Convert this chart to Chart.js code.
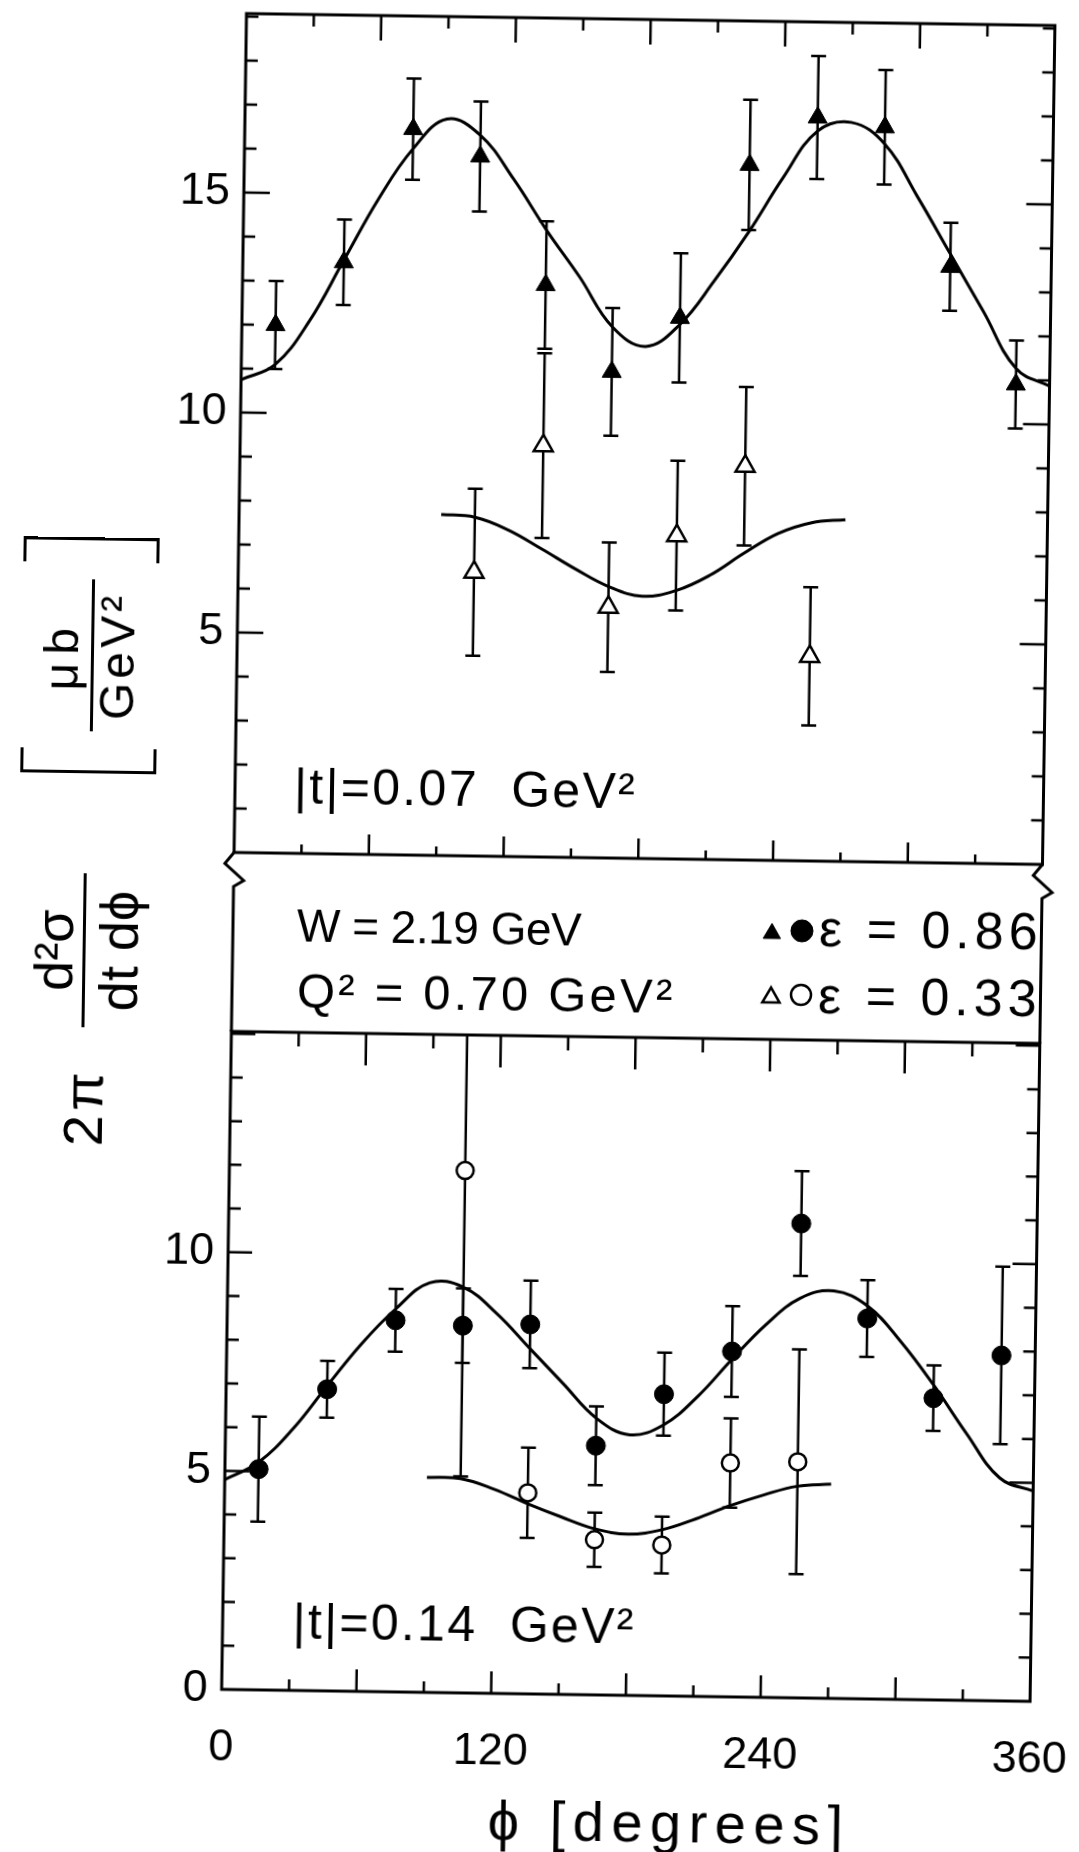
<!DOCTYPE html>
<html>
<head>
<meta charset="utf-8">
<script src="https://cdn.jsdelivr.net/npm/chart.js@4.4.1/dist/chart.umd.min.js"></script>
<style>
  html, body { margin: 0; padding: 0; background: #fff; overflow: hidden; }
  #page {
    position: relative; width: 1079px; height: 1852px;
    transform: rotate(0.85deg); transform-origin: 539.5px 926px;
  }
  canvas { position: absolute; left: 0; }
  #chart-top { top: 0; }
  #chart-bottom { top: 1000px; }

  .note {
    position: absolute; color: #000; line-height: 1; white-space: pre;
    font-family: 'Liberation Sans', Arial, sans-serif;
  }
  #t-top    { left: 292px; top: 765px;  font-size: 50px; letter-spacing: 2.3px; }
  #t-bottom { left: 303px; top: 1600px; font-size: 50px; letter-spacing: 2.3px; }
  #w-line   { left: 297px; top: 906px;  font-size: 46px; letter-spacing: -0.5px; }
  #q-line   { left: 298px; top: 970px;  font-size: 49px; letter-spacing: 3.2px; }
  #eps-hi   { left: 819px; top: 898px;  font-size: 52px; letter-spacing: 5px; }
  #eps-lo   { left: 819px; top: 965px;  font-size: 52px; letter-spacing: 5px; }
  #x-title  { left: 501px; top: 1793px; font-size: 56px; letter-spacing: 7.5px; }

  /* vertical axis title, written along the page upwards */
  #ytitle {
    position: absolute; left: -216px; top: 781px; width: 604px; height: 140px;
    transform: rotate(-90deg); display: flex; align-items: center;
    font-family: 'Liberation Sans', Arial, sans-serif; color: #000; line-height: 1;
  }
  #ytitle .pi { font-size: 56px; letter-spacing: 4px; margin-right: 41px; white-space: pre; }
  #ytitle .frac { display: inline-flex; flex-direction: column; align-items: center; flex: none; }
  #ytitle .frac span { display: block; text-align: center; white-space: pre; }
  #ytitle .big { width: 154px; font-size: 54px; margin-right: 100px; }
  #ytitle .big .den { width: 100%; margin-top: 2px; padding-top: 6px; border-top: 3px solid #000; }
  #ytitle .small { width: 152px; font-size: 48px; margin: 0 17px; }
  #ytitle .small .num { letter-spacing: 8px; }
  #ytitle .small .den { width: 100%; margin-top: 5px; border-top: 3px solid #000; letter-spacing: 4px; }
  #ytitle .brk { flex: none; width: 25px; height: 136px; box-sizing: border-box; border: 3px solid #000; }
  #ytitle .brk.l { border-right: none; }
  #ytitle .brk.r { border-left: none; }
</style>
</head>
<body>
<div id="page">
  <canvas id="chart-top" width="1079" height="1040"></canvas>
  <canvas id="chart-bottom" width="1079" height="852"></canvas>

  <div class="note" id="t-top">|t|=0.07  GeV²</div>
  <div class="note" id="t-bottom">|t|=0.14  GeV²</div>
  <div class="note" id="w-line">W = 2.19 GeV</div>
  <div class="note" id="q-line">Q² = 0.70 GeV²</div>
  <div class="note" id="eps-hi">ε = 0.86</div>
  <div class="note" id="eps-lo">ε = 0.33</div>
  <div class="note" id="x-title">ϕ [degrees]</div>

  <div id="ytitle">
    <span class="pi">2π</span>
    <span class="frac big"><span class="num">d²σ</span><span class="den">dt dϕ</span></span>
    <span class="brk l"></span>
    <span class="frac small"><span class="num">μb</span><span class="den">GeV²</span></span>
    <span class="brk r"></span>
  </div>
</div>

<script>
// ==========================================
// data: azimuthal distributions, W = 2.19 GeV, Q2 = 0.70 GeV2
// ==========================================

const phiAll = [15, 45, 75, 105, 135, 165, 195, 225, 255, 285, 315, 345];
const phiLow = [105, 135, 165, 195, 225, 255];

// |t| = 0.07 GeV2
const top086    = [12.0, 13.45, 16.5, 15.9, 13.0, 11.05, 12.3, 15.8, 16.9, 16.7, 13.55, 10.9];
const top086Err = [1.0, 0.97, 1.15, 1.25, 1.45, 1.45, 1.47, 1.48, 1.4, 1.3, 1.0, 1.0];
const top033    = [6.45, 9.35, 5.7, 7.35, 8.95, 4.65];
const top033Err = [1.9, 2.1, 1.47, 1.7, 1.8, 1.57];

// |t| = 0.14 GeV2
const bot086    = [5.05, 6.9, 8.5, 8.4, 8.45, 5.7, 6.9, 7.9, 10.85, 8.7, 6.9, 7.9];
const bot086Err = [1.2, 0.65, 0.72, 0.85, 1.0, 0.9, 0.95, 1.04, 1.2, 0.88, 0.75, 2.03];
const bot033    = [11.95, 4.6, 3.55, 3.45, 5.35, 5.4];
const bot033Err = [7.0, 1.03, 0.62, 0.65, 1.02, 2.57];

// fitted curves
const fitPhiFull = [0, 15, 30, 45, 60, 75, 90, 105, 120, 135, 150, 165, 180,
                    195, 210, 225, 240, 255, 270, 285, 300, 315, 330, 345, 360];
const fitPhiHalf = [90, 105, 120, 135, 150, 165, 180, 195, 210, 225, 240, 255, 270];
const topFit086 = [10.75, 11.1, 12.1, 13.5, 14.9, 16.05, 16.74, 16.38, 15.4, 14.25, 13.2, 12.07, 11.64,
                   12.15, 13.15, 14.27, 15.52, 16.59, 16.8, 16.32, 15.13, 13.84, 12.55, 11.26, 10.87];
const topFit033 = [7.75, 7.7, 7.42, 7.0, 6.56, 6.17, 5.96, 6.1, 6.46, 6.97, 7.43, 7.69, 7.77];
const botFit086 = [4.8, 5.21, 5.98, 6.98, 7.95, 8.76, 9.37, 9.28, 8.69, 7.9, 7.11, 6.33, 5.96,
                   6.2, 6.86, 7.72, 8.53, 9.14, 9.32, 8.99, 8.19, 7.2, 6.1, 5.1, 4.81];
const botFit033 = [4.92, 4.9, 4.67, 4.35, 4.06, 3.8, 3.69, 3.8, 4.06, 4.37, 4.63, 4.84, 4.9];

// tick labels
const yTicksTop = [5, 10, 15];
const yTicksBottom = [0, 5, 10];
const xTicks = [0, 120, 240, 360];

// ==========================================
// layout
// ==========================================

const TICK_FONT = "'Liberation Sans Narrow', 'Liberation Sans', Arial, sans-serif";
const PAGE_W = 1079;
const AXIS_LEFT = 233;
const AXIS_RIGHT = 1041.5;
const BOX_BOTTOM = 1036;   // page y where the lower panel starts

function series(xs, ys) {
  return xs.map((x, i) => ({ x: x, y: ys[i] }));
}

function markerSet(label, xs, ys, errs, style, filled, radius) {
  return {
    label: label,
    data: series(xs, ys),
    errors: errs,
    showLine: false,
    pointStyle: style,
    pointRadius: radius,
    pointHoverRadius: radius,
    pointBackgroundColor: filled ? '#000' : '#fff',
    pointBorderColor: '#000',
    pointBorderWidth: filled ? 1 : 2.5
  };
}

function fitLine(label, xs, ys) {
  return {
    label: label,
    data: series(xs, ys),
    showLine: true,
    pointRadius: 0,
    borderColor: '#000',
    borderWidth: 3,
    tension: 0.4,
    fill: false
  };
}

// ==========================================
// plugins
// ==========================================

// vertical error bars with short caps, under the markers
const errorBars = {
  id: 'errorBars',
  beforeDatasetsDraw(chart) {
    const { ctx, chartArea: a, scales: { x, y } } = chart;
    ctx.save();
    ctx.beginPath();
    ctx.rect(a.left, a.top, a.right - a.left, a.bottom - a.top);
    ctx.clip();
    ctx.strokeStyle = '#000';
    ctx.lineWidth = 2.5;
    chart.data.datasets.forEach(ds => {
      if (!ds.errors) return;
      ds.data.forEach((p, i) => {
        const px = x.getPixelForValue(p.x);
        const hi = y.getPixelForValue(p.y + ds.errors[i]);
        const lo = y.getPixelForValue(p.y - ds.errors[i]);
        ctx.beginPath();
        ctx.moveTo(px, hi); ctx.lineTo(px, lo);
        ctx.moveTo(px - 7.5, hi); ctx.lineTo(px + 7.5, hi);
        ctx.moveTo(px - 7.5, lo); ctx.lineTo(px + 7.5, lo);
        ctx.stroke();
      });
    });
    ctx.restore();
  }
};

// closed frame with inward ticks on all four sides
const frameTicks = {
  id: 'frameTicks',
  afterDraw(chart, args, o) {
    const { ctx, chartArea: a, scales: { x, y } } = chart;
    ctx.save();
    ctx.strokeStyle = '#000';
    ctx.lineWidth = 3;
    ctx.strokeRect(a.left, a.top, a.right - a.left, a.bottom - a.top);
    ctx.lineWidth = 2.5;
    ctx.beginPath();
    for (let v = 1; v < y.max; v++) {
      const py = y.getPixelForValue(v);
      const len = v % 5 === 0 ? o.yMajor : o.yMinor;
      ctx.moveTo(a.left, py); ctx.lineTo(a.left + len, py);
      ctx.moveTo(a.right, py); ctx.lineTo(a.right - len, py);
    }
    for (let p = 30; p < 360; p += 30) {
      const px = x.getPixelForValue(p);
      const major = p % 60 === 0;
      ctx.moveTo(px, a.top); ctx.lineTo(px, a.top + (major ? o.topLong : o.topShort));
      ctx.moveTo(px, a.bottom); ctx.lineTo(px, a.bottom - (major ? o.botLong : o.botShort));
    }
    ctx.stroke();
    ctx.restore();
  }
};

// side walls of the info box between the panels (broken-axis marks) and its symbols
const breakBox = {
  id: 'breakBox',
  afterDraw(chart, args, o) {
    const { ctx, chartArea: a } = chart;
    const t = a.bottom;
    ctx.save();
    ctx.strokeStyle = '#000';
    ctx.lineWidth = 3;
    [a.left, a.right].forEach(xe => {
      ctx.beginPath();
      ctx.moveTo(xe, t);
      ctx.lineTo(xe - 9, t + 11);
      ctx.lineTo(xe + 10, t + 28);
      ctx.lineTo(xe, t + 34);
      ctx.lineTo(xe, o.bottom);
      ctx.stroke();
    });
    o.symbols.forEach(s => {
      ctx.fillStyle = s.filled ? '#000' : '#fff';
      ctx.lineWidth = s.filled ? 1 : 2.5;
      Chart.helpers.drawPoint(ctx, { pointStyle: s.style, radius: s.r, borderWidth: ctx.lineWidth, rotation: 0 }, s.x, s.y);
    });
    ctx.restore();
  }
};

function yAxis(max, labels) {
  return {
    type: 'linear',
    min: 0,
    max: max,
    grid: { display: false, drawTicks: false },
    border: { display: false },
    ticks: {
      stepSize: 5,
      padding: 14,
      color: '#000',
      font: { family: TICK_FONT, size: 45 },
      callback: v => labels.includes(v) ? String(v) : ''
    },
    // fixed axis width, and no extra room reserved for the end labels
    afterFit: s => { s.width = AXIS_LEFT; s.paddingTop = 0; s.paddingBottom = 0; }
  };
}

const common = {
  responsive: false,
  animation: false,
  events: [],
  plugins: { legend: { display: false }, tooltip: { enabled: false } }
};

// ==========================================
// upper panel: |t| = 0.07 GeV2
// ==========================================

new Chart(document.getElementById('chart-top'), {
  type: 'scatter',
  data: {
    datasets: [
      markerSet('ε = 0.86', phiAll, top086, top086Err, 'triangle', true, 11),
      markerSet('ε = 0.33', phiLow, top033, top033Err, 'triangle', false, 11),
      fitLine('fit ε = 0.86', fitPhiFull, topFit086),
      fitLine('fit ε = 0.33', fitPhiHalf, topFit033)
    ]
  },
  options: {
    ...common,
    layout: { padding: { top: 18, right: PAGE_W - AXIS_RIGHT, bottom: 1040 - 857, left: 0 } },
    scales: {
      x: { type: 'linear', display: false, min: 0, max: 360 },
      y: yAxis(19.07, yTicksTop)
    },
    plugins: {
      ...common.plugins,
      frameTicks: { yMajor: 26, yMinor: 12, topLong: 25, topShort: 12, botLong: 20, botShort: 9 },
      breakBox: {
        bottom: BOX_BOTTOM,
        symbols: [
          { style: 'triangle', filled: true,  r: 10, x: 772, y: 930 },
          { style: 'circle',   filled: true,  r: 11, x: 802, y: 927 },
          { style: 'triangle', filled: false, r: 10, x: 772, y: 994 },
          { style: 'circle',   filled: false, r: 10, x: 802, y: 991 }
        ]
      }
    }
  },
  plugins: [errorBars, frameTicks, breakBox]
});

// ==========================================
// lower panel: |t| = 0.14 GeV2
// ==========================================

new Chart(document.getElementById('chart-bottom'), {
  type: 'scatter',
  data: {
    datasets: [
      markerSet('ε = 0.86', phiAll, bot086, bot086Err, 'circle', true, 9.5),
      markerSet('ε = 0.33', phiLow, bot033, bot033Err, 'circle', false, 8.5),
      fitLine('fit ε = 0.86', fitPhiFull, botFit086),
      fitLine('fit ε = 0.33', fitPhiHalf, botFit033)
    ]
  },
  options: {
    ...common,
    layout: { padding: { top: BOX_BOTTOM - 1000, right: PAGE_W - AXIS_RIGHT, bottom: 0, left: 0 } },
    scales: {
      x: {
        type: 'linear',
        min: 0,
        max: 360,
        grid: { display: false, drawTicks: false },
        border: { display: false },
        ticks: {
          stepSize: 30,
          autoSkip: false,
          maxRotation: 0,
          padding: 32,
          color: '#000',
          font: { family: TICK_FONT, size: 45 },
          callback: v => xTicks.includes(v) ? String(v) : ''
        },
        // fixed axis height; the end labels may overhang the frame
        afterFit: s => { s.height = 852 - 694; s.paddingLeft = 0; s.paddingRight = 0; }
      },
      y: yAxis(15.05, yTicksBottom)
    },
    plugins: {
      ...common.plugins,
      frameTicks: { yMajor: 24, yMinor: 12, topLong: 32, topShort: 14, botLong: 22, botShort: 11 }
    }
  },
  plugins: [errorBars, frameTicks]
});
</script>
</body>
</html>
